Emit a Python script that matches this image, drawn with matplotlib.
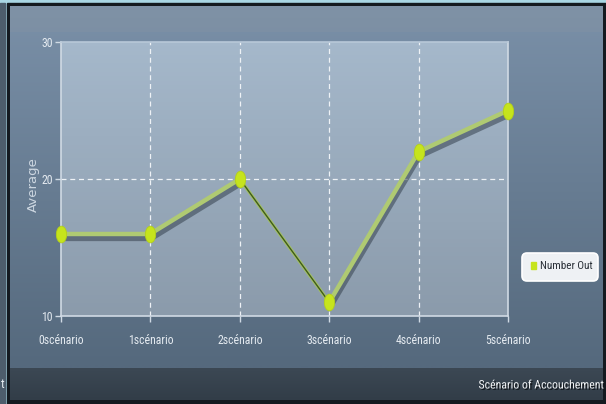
import numpy as np
import matplotlib
matplotlib.use("Agg")
import matplotlib.pyplot as plt
import matplotlib.patheffects as pe
from matplotlib.path import Path
from matplotlib.patches import FancyBboxPatch, Rectangle
from matplotlib import font_manager

categories = ["0scénario", "1scénario", "2scénario", "3scénario", "4scénario", "5scénario"]
number_out = [16, 16, 20, 11, 22, 25]
y_ticks = [10, 20, 30]
series_name = "Number Out"
x_title = "Scénario of Accouchement"
y_title = "Average"

# pick a narrow face if one is around
narrow = dict(family="DejaVu Sans")
names = {f.name for f in font_manager.fontManager.ttflist}
for cand in ["Liberation Sans Narrow", "Roboto Condensed", "DejaVu Sans Condensed", "Open Sans Condensed"]:
    if cand in names:
        narrow = dict(family=cand)
        break

W, H = 606, 404
fig = plt.figure(figsize=(W / 100, H / 100), dpi=100)

# background canvas in pixel units
bg = fig.add_axes([0, 0, 1, 1])
bg.set_xlim(0, W)
bg.set_ylim(H, 0)
bg.axis("off")

def vgrad(ax, x0, x1, y0, y1, c_top, c_bot, z=0):
    top = np.array(matplotlib.colors.to_rgb(c_top))
    bot = np.array(matplotlib.colors.to_rgb(c_bot))
    t = np.linspace(0, 1, 64)[:, None]
    img = (top * (1 - t) + bot * t)[:, None, :]
    ax.imshow(img, extent=(x0, x1, y1, y0), aspect="auto", zorder=z, interpolation="bilinear")

# outer frame
bg.add_patch(Rectangle((0, 0), W, H, color="#a9d6e4", zorder=0))
bg.add_patch(Rectangle((0, 3), 5, H, color="#4d5d6c", zorder=0.5))
bg.add_patch(Rectangle((7, 3), W - 7, H - 3, color="#141a20", zorder=0.6))
vgrad(bg, 10, 603, 6, 368, "#7a90a8", "#55697d", z=1)
bg.add_patch(Rectangle((10, 6), 593, 26, color="#8a96a2", alpha=0.3, zorder=1.1, lw=0))
vgrad(bg, 10, 603, 368, 400, "#3c4854", "#323d48", z=1)
bg.text(1, 384, "t", color="#e8eef2", fontsize=9, va="center", ha="left", zorder=3, **narrow)
bg.text(603, 385, x_title, color="#f2f4f6", fontsize=8.5, ha="right", va="center", zorder=3,
        path_effects=[pe.withSimplePatchShadow(offset=(1, -1), shadow_rgbFace="#101418", alpha=0.9)],
        **narrow)

# plot region: x 61..508, y 42..316 px
L, R, T, B = 61, 508, 42, 316
ax = fig.add_axes([L / W, 1 - B / H, (R - L) / W, (B - T) / H])
grad = np.linspace(0, 1, 64)[:, None]
c_top = np.array(matplotlib.colors.to_rgb("#a5b8cb"))
c_bot = np.array(matplotlib.colors.to_rgb("#8b9bab"))
ax.imshow((c_top * (1 - grad) + c_bot * grad)[:, None, :],
          extent=(0, len(categories) - 1, min(y_ticks), max(y_ticks)), aspect="auto", zorder=0)
ax.set_xlim(0, len(categories) - 1)
ax.set_ylim(min(y_ticks), max(y_ticks))

for s in ax.spines.values():
    s.set_color("#d0dae4")
    s.set_linewidth(1.2)
ax.spines["top"].set_color("#b8c8d8")

ax.set_xticks(range(len(categories)))
ax.set_xticklabels(categories)
ax.set_yticks(y_ticks)
ax.tick_params(colors="#d0dae4", length=4, width=1, direction="out")
tick_font = font_manager.FontProperties(size=8.5, **narrow)
for lbl in ax.get_xticklabels() + ax.get_yticklabels():
    lbl.set_color("#e4eaf0")
    lbl.set_fontproperties(tick_font)
ax.tick_params(axis="x", pad=9)
ax.tick_params(axis="y", pad=2)

for i in range(1, len(categories) - 1):
    ax.axvline(i, color="#eef2f6", lw=0.9, ls=(0, (4, 3)), zorder=1)
for v in y_ticks[1:-1]:
    ax.axhline(v, color="#eef2f6", lw=0.9, ls=(0, (4, 3)), zorder=1)

ax.set_ylabel(y_title, color="#ccd6e0", fontsize=9.5, family="DejaVu Sans")
ax.yaxis.set_label_coords(-21 / (R - L), 0.48)

xs = np.arange(len(categories))
shadow = [pe.SimpleLineShadow(offset=(0.5, -3), shadow_color="#35414e", alpha=0.55, linewidth=4.5), pe.Normal()]
segs_thick = [(0, 1), (1, 2), (3, 4), (4, 5)]
for a, b in segs_thick:
    ax.plot(xs[[a, b]], [number_out[a], number_out[b]], color="#afca72", lw=3.2,
            solid_capstyle="round", zorder=3, path_effects=shadow, clip_on=False)
ax.plot(xs[[2, 3]], [number_out[2], number_out[3]], color="#a3c262", lw=2.4, zorder=3)
ax.plot(xs[[2, 3]], [number_out[2], number_out[3]], color="#3f5a1c", lw=1.0, zorder=3.1)

circle = Path.unit_circle()
ellipse = Path(circle.vertices * np.array([0.62, 1.0]), circle.codes)
ax.plot(xs, number_out, ls="none", marker=ellipse, ms=12, color="#c6e41c",
        mec="#b4d018", mew=0.6, zorder=4, clip_on=False)

# legend box
bg.add_patch(FancyBboxPatch((522, 253), 76, 28, boxstyle="round,pad=0,rounding_size=5",
                            fc="#eef1f4", ec="#ffffff", lw=1.2, zorder=3))
bg.add_patch(Rectangle((531, 262), 5, 7, color="#c6e41c", zorder=4))
bg.text(540, 266, series_name, color="#2a3038", fontsize=8, va="center", ha="left",
        zorder=4, **narrow)

fig.savefig("out.png", dpi=100)
